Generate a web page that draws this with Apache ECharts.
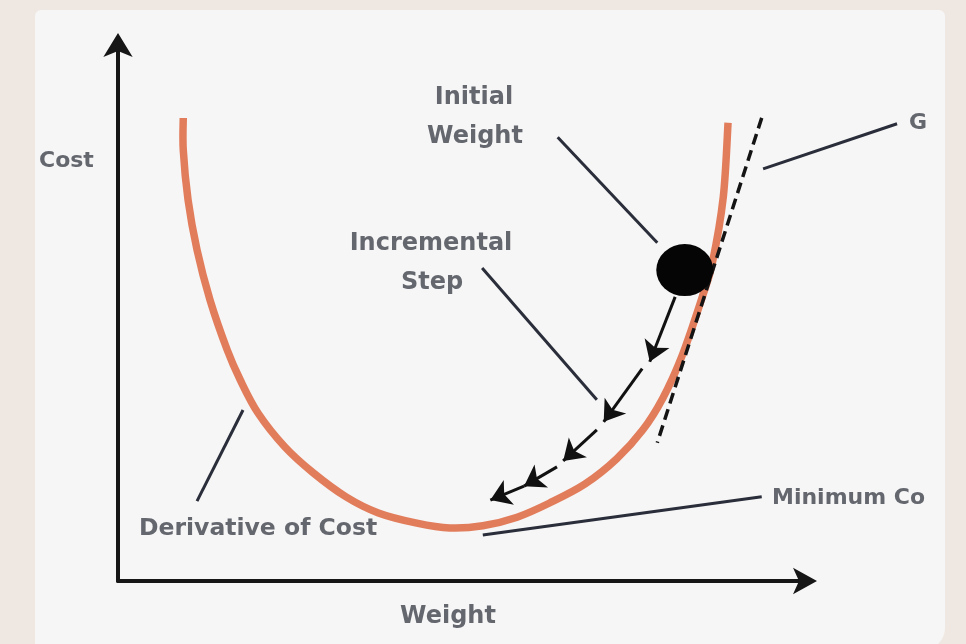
<!DOCTYPE html>
<html>
<head>
<meta charset="utf-8">
<script src="https://cdn.jsdelivr.net/npm/echarts@6/dist/echarts.min.js"></script>
<style>
html,body{margin:0;padding:0;background:#efe7e1;}
#chart{width:966px;height:644px;}
</style>
</head>
<body>
<div id="chart"></div>
<script>
// Cost curve (weight, cost), axis scale 0-100
const costX = [9.5, 9.5, 10.2, 11.5, 13.4, 15.9, 17.8, 20.4, 24.3, 28.4, 33.2, 37.9, 43.5, 48.3, 53.1, 58.1, 62.9, 68.0, 72.6, 76.4, 79.3, 82.1, 85.0, 86.5, 88.1, 88.8];
const costY = [86.4, 80.4, 71.1, 61.8, 52.4, 43.1, 37.5, 31.3, 25.0, 20.2, 15.7, 12.7, 10.8, 9.9, 10.3, 11.9, 14.6, 18.1, 22.8, 28.2, 34.1, 42.0, 52.8, 59.3, 71.6, 85.5];

// Initial weight point
const initialWeight = [82.5, 58.0];

// Incremental step arrows
const stepStartX = [81.1, 76.3, 69.7, 63.9, 59.1];
const stepStartY = [53.0, 39.6, 28.2, 21.3, 17.7];
const stepEndX = [77.4, 70.7, 64.8, 59.1, 54.2];
const stepEndY = [40.9, 29.7, 22.4, 17.7, 15.1];

// Gradient tangent (dashed)
const tangentX = [93.7, 78.5];
const tangentY = [86.4, 25.8];

// Leader lines from labels
const leaderNames = ['Initial Weight', 'Incremental Step', 'Gradient', 'Minimum Cost', 'Derivative of Cost'];
const leaderStartX = [64.0, 53.0, 93.9, 53.1, 18.2];
const leaderStartY = [82.8, 58.4, 76.9, 8.6, 31.9];
const leaderEndX = [78.5, 69.7, 113.4, 93.7, 11.5];
const leaderEndY = [63.1, 33.8, 85.3, 15.7, 14.9];

// Text labels
const labelTexts = ['Initial', 'Weight', 'Incremental', 'Step', 'Cost', 'G', 'Minimum Co', 'Derivative of Cost'];
const axisXName = 'Weight';

const chart = echarts.init(document.getElementById('chart'));

function label(text, x, y, align, size) {
  return {
    type: 'text',
    x: x, y: y,
    style: {
      text: text,
      fontFamily: 'DejaVu Sans',
      fontWeight: 'bold',
      fontSize: size || 24,
      fill: '#65676f',
      textAlign: align || 'center',
      textVerticalAlign: 'middle'
    },
    z: 10
  };
}

const curveData = costX.map((x, i) => [x, costY[i]]);
const stepData = stepStartX.map((x, i) => ({coords: [[x, stepStartY[i]], [stepEndX[i], stepEndY[i]]]}));
const leaderData = leaderStartX.map((x, i) => ({name: leaderNames[i], coords: [[x, leaderStartY[i]], [leaderEndX[i], leaderEndY[i]]]}));
const tangentData = [{coords: [[tangentX[0], tangentY[0]], [tangentX[1], tangentY[1]]]}];

// Smooth path (Catmull-Rom as cubic Bezier) through the projected points
function smoothPath(pts) {
  let d = 'M' + pts[0][0] + ' ' + pts[0][1];
  for (let i = 0; i < pts.length - 1; i++) {
    const p0 = pts[Math.max(i - 1, 0)];
    const p1 = pts[i];
    const p2 = pts[i + 1];
    const p3 = pts[Math.min(i + 2, pts.length - 1)];
    const c1x = p1[0] + (p2[0] - p0[0]) / 6, c1y = p1[1] + (p2[1] - p0[1]) / 6;
    const c2x = p2[0] - (p3[0] - p1[0]) / 6, c2y = p2[1] - (p3[1] - p1[1]) / 6;
    d += ' C' + c1x + ' ' + c1y + ' ' + c2x + ' ' + c2y + ' ' + p2[0] + ' ' + p2[1];
  }
  return d;
}

chart.setOption({
  backgroundColor: '#efe7e1',
  animation: false,
  graphic: [
    {
      type: 'rect',
      shape: {x: 35, y: 10, width: 910, height: 640, r: [6, 6, 22, 6]},
      style: {fill: '#f6f6f6'},
      z: -10
    },
    label(labelTexts[0], 474, 98),
    label(labelTexts[1], 475, 137),
    label(labelTexts[2], 431, 244),
    label(labelTexts[3], 432, 283),
    label(labelTexts[4], 39, 161, 'left', 22),
    label(labelTexts[5], 909, 123, 'left', 22),
    label(labelTexts[6], 772, 498, 'left', 22),
    label(labelTexts[7], 139, 529, 'left', 23.5),
    label(axisXName, 448, 617)
  ],
  grid: {left: 118, top: 45, width: 687, height: 536},
  xAxis: {
    type: 'value', min: 0, max: 100,
    axisLine: {show: true, symbol: ['none', 'arrow'], symbolSize: [20, 24], symbolOffset: [0, 12], lineStyle: {color: '#161616', width: 4}},
    axisTick: {show: false}, axisLabel: {show: false}, splitLine: {show: false}
  },
  yAxis: {
    type: 'value', min: 0, max: 100,
    axisLine: {show: true, symbol: ['none', 'arrow'], symbolSize: [22, 24], symbolOffset: [0, 12], lineStyle: {color: '#161616', width: 4}},
    axisTick: {show: false}, axisLabel: {show: false}, splitLine: {show: false}
  },
  series: [
    {
      name: 'Cost',
      type: 'custom',
      data: curveData,
      clip: false,
      renderItem: function (params, api) {
        if (params.dataIndex !== 0) return null;
        const pts = curveData.map(p => api.coord(p));
        return {
          type: 'path',
          shape: {pathData: smoothPath(pts)},
          style: {fill: 'none', stroke: '#e27d5c', lineWidth: 7.5},
          z2: 3
        };
      },
      z: 3
    },
    {
      name: 'Tangent',
      type: 'lines',
      coordinateSystem: 'cartesian2d',
      clip: false,
      data: tangentData,
      lineStyle: {color: '#141414', width: 3.5, type: [11, 6], opacity: 1},
      z: 4
    },
    {
      name: 'Leaders',
      type: 'lines',
      coordinateSystem: 'cartesian2d',
      clip: false,
      data: leaderData,
      lineStyle: {color: '#2a2d3a', width: 3, opacity: 1},
      z: 4
    },
    {
      name: 'Steps',
      type: 'lines',
      coordinateSystem: 'cartesian2d',
      clip: false,
      symbol: ['none', 'arrow'],
      symbolSize: 20,
      data: stepData,
      lineStyle: {color: '#111111', width: 3, opacity: 1},
      z: 5
    },
    {
      name: 'Initial Weight',
      type: 'scatter',
      data: [initialWeight],
      symbol: 'circle',
      symbolSize: [57, 52],
      itemStyle: {color: '#050505', opacity: 1},
      clip: false,
      z: 6
    }
  ]
});
</script>
</body>
</html>
